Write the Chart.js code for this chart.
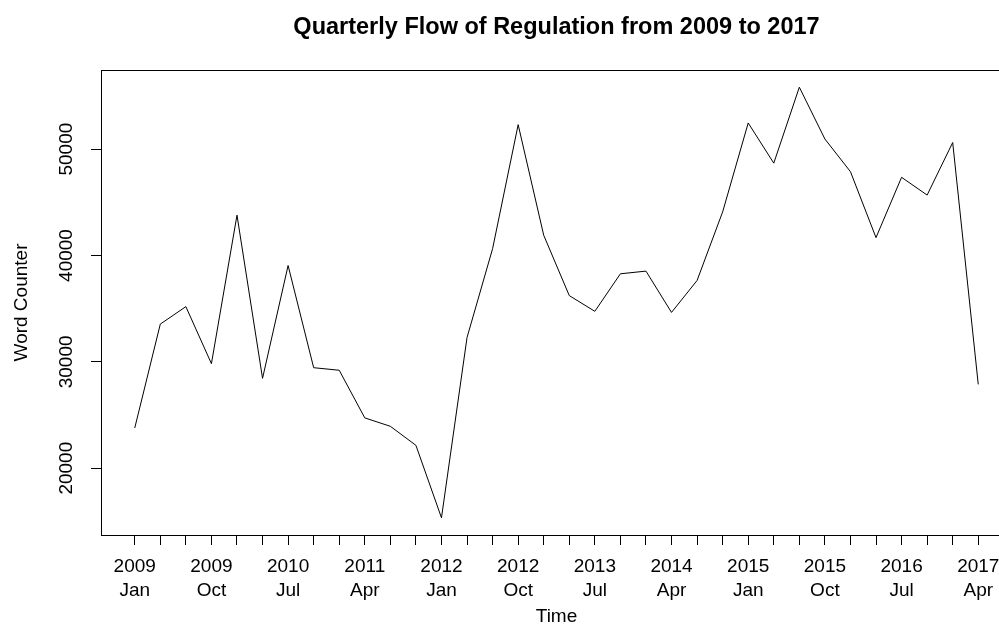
<!DOCTYPE html>
<html>
<head>
<meta charset="utf-8">
<title>Quarterly Flow of Regulation</title>
<script src="https://cdn.jsdelivr.net/npm/chart.js@4.4.1/dist/chart.umd.min.js"></script>
<style>
  html, body { margin: 0; padding: 0; background: #fff; overflow: hidden; }
  canvas { display: block; }
</style>
</head>
<body>
<canvas id="chart" width="1012" height="628"></canvas>
<script>
// quarterly word counts, 2009 Q1 .. 2017 Q2
const wordCounts = [
    23780, 33550, 35190, 29830,
    43790, 28450, 39060, 29450,
    29210, 24730, 23940, 22150,
    15340, 32290, 40640, 52300,
    41900, 36230, 34750, 38280,
    38530, 34650, 37650, 44100,
    52460, 48680, 55820, 50950,
    47880, 41680, 47350, 45680,
    50620, 27880,
];

// labelled quarters (index into wordCounts) and their two-line labels
const labelQuarters = [0, 3, 6, 9, 12, 15, 18, 21, 24, 27, 30, 33];
const tickYears = ['2009', '2009', '2010', '2011', '2012', '2012', '2013', '2014', '2015', '2015', '2016', '2017'];
const tickMonths = ['Jan', 'Oct', 'Jul', 'Apr', 'Jan', 'Oct', 'Jul', 'Apr', 'Jan', 'Oct', 'Jul', 'Apr'];

const yTicks = [20000, 30000, 40000, 50000];

const FONT = '"Liberation Sans", Arial, Helvetica, sans-serif';
Chart.defaults.font.family = FONT;
Chart.defaults.color = '#000';

const quarterIdx = wordCounts.map((_, i) => i);

// R-style box around the plot + vertical y tick labels
const rFrame = {
    id: 'rFrame',
    afterDraw(chart) {
        const { ctx, chartArea: a, scales: { y } } = chart;
        ctx.save();
        ctx.strokeStyle = '#000';
        ctx.lineWidth = 1;
        const l = Math.round(a.left) + 0.5, t = Math.round(a.top) + 0.5;
        const r = Math.round(a.right) + 0.5, b = Math.round(a.bottom) + 0.5;
        ctx.strokeRect(l, t, r - l, b - t);

        ctx.fillStyle = '#000';
        ctx.font = '19px ' + FONT;
        ctx.textAlign = 'center';
        ctx.textBaseline = 'middle';
        yTicks.forEach(v => {
            ctx.save();
            ctx.translate(67, y.getPixelForValue(v));
            ctx.rotate(-Math.PI / 2);
            ctx.fillText(String(v), 0, 0);
            ctx.restore();
        });
        ctx.restore();
    },
};

new Chart(document.getElementById('chart'), {
    type: 'line',
    data: {
        datasets: [{
            label: 'Word Counter',
            data: wordCounts.map((v, i) => ({ x: quarterIdx[i], y: v })),
            borderColor: '#000',
            borderWidth: 1,
            pointRadius: 0,
            tension: 0,
            fill: false,
        }],
    },
    options: {
        responsive: false,
        animation: false,
        devicePixelRatio: 1,
        layout: { padding: 0 },
        plugins: {
            legend: { display: false },
            tooltip: { enabled: false },
            title: {
                display: true,
                fullSize: false,
                text: 'Quarterly Flow of Regulation from 2009 to 2017',
                color: '#000',
                font: { size: 23.5, weight: 'bold', lineHeight: 1.2 },
                padding: { top: 13, bottom: 28.8 },
            },
        },
        scales: {
            x: {
                type: 'linear',
                min: -1.32,
                max: 34.32,
                afterBuildTicks: s => { s.ticks = quarterIdx.map(v => ({ value: v })); },
                afterFit: s => { s.height = 93; },
                grid: { drawOnChartArea: false, drawTicks: true, tickLength: 10, tickColor: '#000', tickWidth: 1 },
                border: { display: false },
                ticks: {
                    autoSkip: false,
                    maxRotation: 0,
                    minRotation: 0,
                    padding: 10,
                    color: '#000',
                    font: { size: 19, lineHeight: 1.24 },
                    callback: v => {
                        const k = labelQuarters.indexOf(v);
                        return k >= 0 ? [tickYears[k], tickMonths[k]] : '';
                    },
                },
                title: { display: true, text: 'Time', color: '#000', font: { size: 19, lineHeight: 1.2 }, padding: 0 },
            },
            y: {
                type: 'linear',
                min: 13720,
                max: 57440,
                afterBuildTicks: s => { s.ticks = yTicks.map(v => ({ value: v })); },
                afterFit: s => { s.width = 101; },
                grid: { drawOnChartArea: false, drawTicks: true, tickLength: 10, tickColor: '#000', tickWidth: 1 },
                border: { display: false },
                ticks: { display: false },
                title: { display: true, text: 'Word Counter', color: '#000', font: { size: 19, lineHeight: 1.2 }, padding: { top: 10, bottom: 0 } },
            },
        },
    },
    plugins: [rFrame],
});
</script>
</body>
</html>
